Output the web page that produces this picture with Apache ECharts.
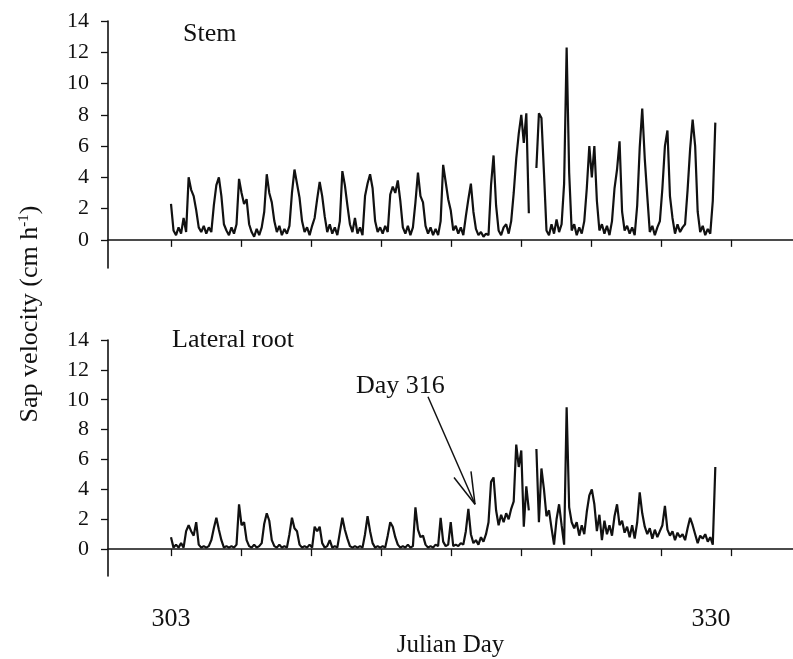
<!DOCTYPE html>
<html>
<head>
<meta charset="utf-8">
<title>Sap velocity</title>
<script src="https://cdn.jsdelivr.net/npm/echarts@6/dist/echarts.min.js"></script>
<style>
html, body { margin: 0; padding: 0; background: #fff; }
#chart { width: 793px; height: 659px; }
</style>
</head>
<body>
<div id="chart"></div>
<script>
// sampling of the traces along the day axis
var startDay = 303;
var stepDay = 0.126;

// stem sap velocity (cm h-1), null = logger gap
var stem = [
    2.3,0.6,0.3,0.8,0.4,1.4,0.5,4.0,3.2,2.8,
    1.9,0.8,0.5,0.9,0.4,0.8,0.5,2.2,3.5,4.0,
    2.8,1.0,0.6,0.3,0.8,0.4,1.0,3.9,3.0,2.3,
    2.6,1.0,0.5,0.2,0.7,0.3,0.8,1.8,4.2,3.0,
    2.4,1.2,0.5,0.9,0.3,0.7,0.4,0.9,3.0,4.5,
    3.6,2.7,1.2,0.5,0.8,0.3,0.9,1.4,2.6,3.7,
    2.8,1.5,0.5,1.0,0.4,0.8,0.3,1.2,4.4,3.5,
    2.2,1.0,0.5,1.4,0.4,0.8,0.3,2.8,3.6,4.2,
    3.3,1.2,0.5,0.8,0.4,0.9,0.5,2.9,3.4,3.0,
    3.8,2.5,0.8,0.4,0.9,0.3,0.8,2.4,4.3,2.8,
    2.4,0.9,0.4,0.8,0.3,0.7,0.3,1.2,4.8,3.7,
    2.6,1.9,0.6,0.9,0.4,0.8,0.3,1.5,2.6,3.6,
    1.8,0.7,0.3,0.5,0.2,0.4,0.3,3.5,5.4,2.2,
    0.6,0.3,0.8,1.0,0.4,1.2,3.0,5.2,6.8,8.0,
    6.2,8.1,1.7,null,null,4.6,8.1,7.8,4.3,0.6,
    0.3,1.0,0.4,1.3,0.5,1.0,3.6,12.3,4.3,0.6,
    1.0,0.3,0.8,0.4,1.2,3.3,6.0,4.0,6.0,2.5,
    0.6,1.0,0.4,0.9,0.3,1.2,3.3,4.5,6.3,1.8,
    0.6,0.9,0.4,0.8,0.3,2.2,5.9,8.4,5.2,2.8,
    0.5,0.9,0.3,0.8,1.2,3.3,6.0,7.0,2.8,1.4,
    0.4,1.0,0.5,0.8,1.0,3.2,5.8,7.7,6.0,1.8,
    0.5,0.9,0.3,0.7,0.4,2.5,7.5
];

// lateral root sap velocity (cm h-1)
var lateralRoot = [
    0.8,0.1,0.3,0.1,0.4,0.1,1.2,1.6,1.2,0.9,
    1.8,0.3,0.1,0.2,0.1,0.2,0.6,1.4,2.1,1.3,
    0.6,0.1,0.2,0.1,0.2,0.1,0.3,3.0,1.6,1.8,
    0.6,0.2,0.1,0.3,0.1,0.2,0.4,1.7,2.4,1.9,
    0.6,0.2,0.1,0.3,0.1,0.2,0.1,1.0,2.1,1.4,
    1.2,0.3,0.1,0.2,0.1,0.3,0.1,1.5,1.2,1.5,
    0.4,0.1,0.2,0.6,0.1,0.2,0.1,1.1,2.1,1.3,
    0.7,0.2,0.1,0.2,0.1,0.2,0.1,1.0,2.2,1.2,
    0.4,0.1,0.2,0.1,0.2,0.1,0.9,1.8,1.5,0.8,
    0.3,0.1,0.2,0.1,0.3,0.1,0.2,2.8,1.3,0.8,
    0.9,0.3,0.1,0.2,0.1,0.3,0.2,2.1,0.5,0.2,
    0.3,1.8,0.2,0.3,0.2,0.4,0.3,1.2,2.7,1.0,
    0.4,0.6,0.3,0.8,0.5,1.0,1.8,4.5,4.8,2.6,
    1.6,2.3,1.8,2.4,2.0,2.7,3.2,7.0,5.5,6.6,
    1.5,4.2,2.6,null,null,6.7,1.8,5.4,4.0,2.2,
    2.6,1.4,0.3,2.0,3.0,1.6,0.3,9.5,2.8,1.8,
    1.4,1.8,0.9,1.6,1.0,2.5,3.6,4.0,3.0,1.2,
    2.3,0.6,1.9,1.0,1.6,0.9,2.2,3.0,1.6,1.9,
    1.1,1.5,0.8,1.6,0.7,1.8,3.8,2.4,1.5,1.0,
    1.4,0.7,1.3,0.8,1.2,1.6,2.9,1.3,0.9,1.2,
    0.6,1.1,0.8,1.0,0.6,1.4,2.1,1.6,1.0,0.4,
    0.9,0.7,1.0,0.5,0.8,0.3,5.5
];

// axes
var yTicks = [0, 2, 4, 6, 8, 10, 12, 14];
var xTicks = [303, 306.5, 310, 313.5, 317, 320.5, 324, 327.5, 331];
var xLabels = [303, 330];

// "Day 316" arrow: shaft start, tip, two head ends (day, cm h-1)
var arrowStart = [315.85, 10.2];
var arrowTip = [318.2, 3.0];
var arrowHeadA = [317.15, 4.8];
var arrowHeadB = [318.0, 5.2];

function toPairs(vals) {
    var res = [];
    for (var i = 0; i < vals.length; i++) {
        res.push([startDay + i * stepDay, vals[i] === null ? '-' : vals[i]]);
    }
    return res;
}

var font = 'Liberation Serif';
var ink = '#111';

function xAxisFor(idx, showLabels) {
    return {
        type: 'value',
        gridIndex: idx,
        min: 299.85,
        max: 334.1,
        splitLine: { show: false },
        axisLine: { lineStyle: { color: ink, width: 1.6 } },
        axisTick: { customValues: xTicks, length: 7, lineStyle: { color: ink, width: 1.3 } },
        axisLabel: {
            show: showLabels,
            customValues: xLabels,
            color: ink,
            fontFamily: font,
            fontSize: 26,
            margin: 30
        },
        name: showLabels ? 'Julian Day' : '',
        nameLocation: 'middle',
        nameGap: 57,
        nameTextStyle: { color: ink, fontFamily: font, fontSize: 25 }
    };
}

function yAxisFor(idx) {
    return {
        type: 'value',
        gridIndex: idx,
        min: -1.8,
        max: 14,
        splitLine: { show: false },
        axisLine: { show: true, lineStyle: { color: ink, width: 1.6 } },
        axisTick: { show: true, customValues: yTicks, length: 7, lineStyle: { color: ink, width: 1.3 } },
        axisLabel: {
            customValues: yTicks,
            color: ink,
            fontFamily: font,
            fontSize: 22,
            margin: 19
        }
    };
}

var chart = echarts.init(document.getElementById('chart'));

var option = {
    backgroundColor: '#fff',
    animation: false,
    grid: [
        { left: 108, right: 0, top: 21, height: 247 },
        { left: 108, right: 0, top: 340, height: 243 }
    ],
    xAxis: [xAxisFor(0, false), xAxisFor(1, true)],
    yAxis: [yAxisFor(0), yAxisFor(1)],
    graphic: [
        {
            type: 'text', left: 183, top: 21,
            style: { text: 'Stem', fill: ink, font: '26px "Liberation Serif"' }
        },
        {
            type: 'text', left: 172, top: 327,
            style: { text: 'Lateral root', fill: ink, font: '26px "Liberation Serif"' }
        },
        {
            type: 'text', left: 356, top: 373,
            style: { text: 'Day 316', fill: ink, font: '26px "Liberation Serif"' }
        },
        {
            type: 'text', x: 30, y: 314, rotation: Math.PI / 2,
            style: {
                text: 'Sap velocity (cm h{sup|-1})',
                fill: ink,
                fontFamily: font,
                fontSize: 26,
                align: 'center',
                verticalAlign: 'middle',
                rich: {
                    sup: { fontFamily: font, fontSize: 15, fill: ink, verticalAlign: 'top', lineHeight: 26, padding: [0, 0, 13, 0] }
                }
            }
        }
    ],
    series: [
        {
            name: 'Stem',
            type: 'line',
            xAxisIndex: 0,
            yAxisIndex: 0,
            data: toPairs(stem),
            showSymbol: false,
            connectNulls: false,
            lineStyle: { color: ink, width: 2.2 },
            itemStyle: { color: ink }
        },
        {
            name: 'Lateral root',
            type: 'line',
            xAxisIndex: 1,
            yAxisIndex: 1,
            data: toPairs(lateralRoot),
            showSymbol: false,
            connectNulls: false,
            lineStyle: { color: ink, width: 2.2 },
            itemStyle: { color: ink },
            markLine: {
                silent: true,
                symbol: ['none', 'none'],
                label: { show: false },
                lineStyle: { color: ink, width: 1.5, type: 'solid' },
                emphasis: { disabled: true },
                data: [
                    [{ coord: arrowStart }, { coord: arrowTip }],
                    [{ coord: arrowHeadA }, { coord: arrowTip }],
                    [{ coord: arrowHeadB }, { coord: arrowTip }]
                ]
            }
        }
    ]
};

chart.setOption(option);
</script>
</body>
</html>
